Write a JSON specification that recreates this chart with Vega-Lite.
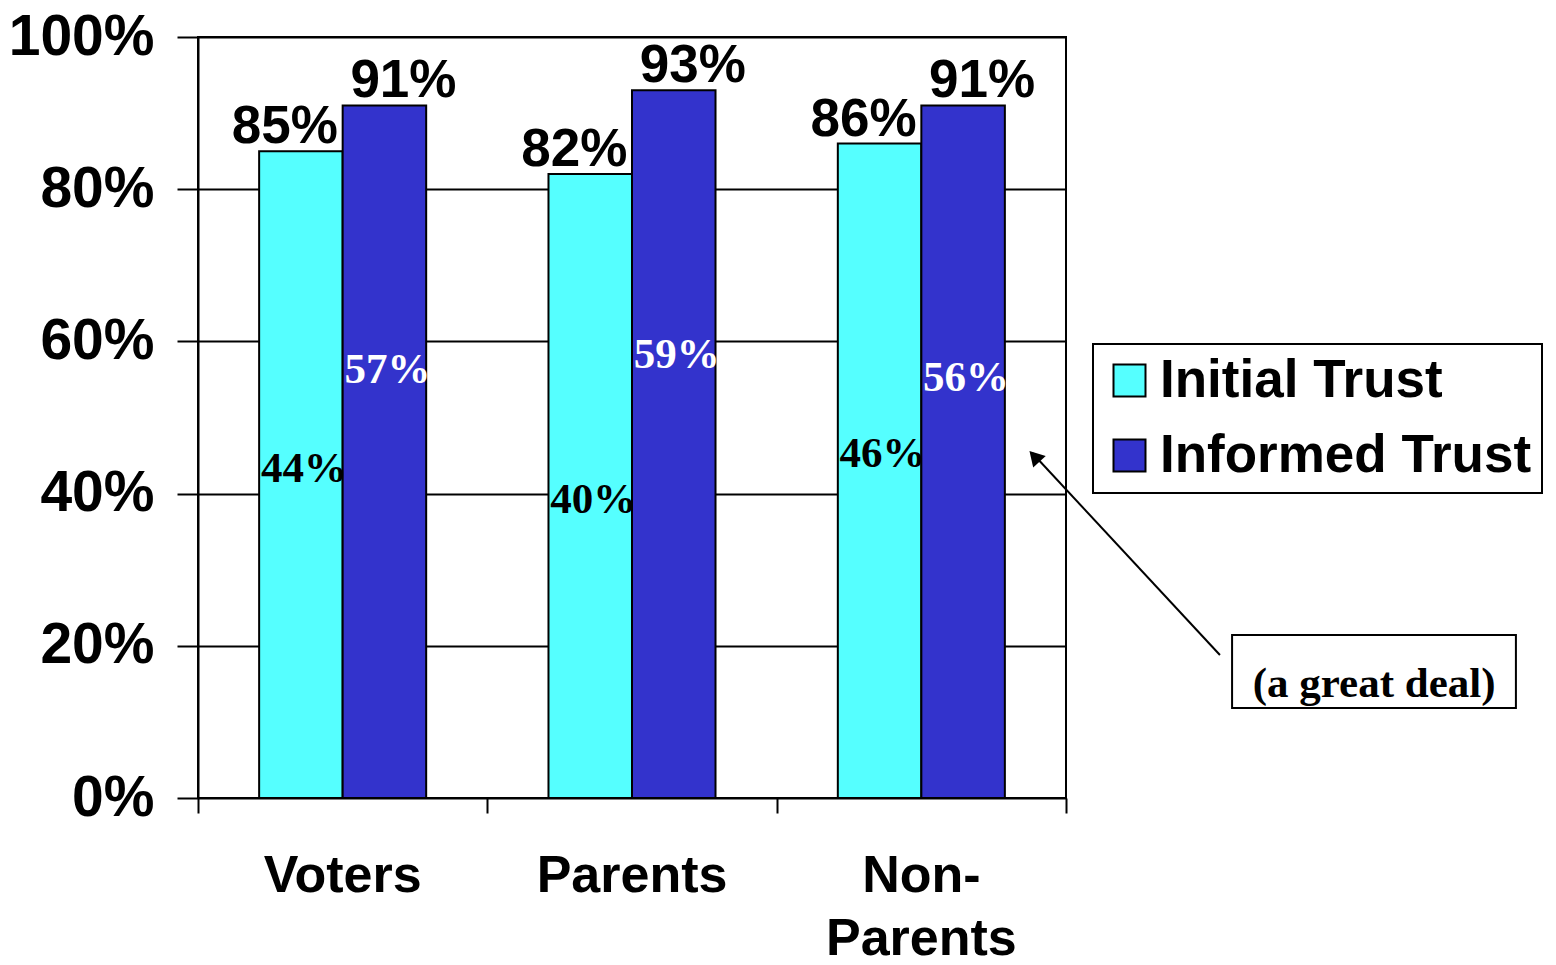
{
  "$schema": "https://vega.github.io/schema/vega-lite/v6.json",
  "width": 868,
  "height": 761,
  "autosize": {"type": "none"},
  "padding": {"left": 198, "top": 37, "right": 490, "bottom": 167},
  "background": "white",
  "config": {
    "view": {"stroke": "black", "strokeWidth": 2},
    "font": "Liberation Sans"
  },
  "data": {
    "values": [
      {"group": "Voters", "series": "Initial Trust", "total": 0.85, "greatDeal": 0.44},
      {"group": "Voters", "series": "Informed Trust", "total": 0.91, "greatDeal": 0.57},
      {"group": "Parents", "series": "Initial Trust", "total": 0.82, "greatDeal": 0.40},
      {"group": "Parents", "series": "Informed Trust", "total": 0.93, "greatDeal": 0.59},
      {"group": "Non-Parents", "series": "Initial Trust", "total": 0.86, "greatDeal": 0.46},
      {"group": "Non-Parents", "series": "Informed Trust", "total": 0.91, "greatDeal": 0.56}
    ]
  },
  "resolve": {"scale": {"x": "independent"}},
  "layer": [
    {
      "encoding": {
        "x": {
          "field": "group",
          "type": "nominal",
          "sort": ["Voters", "Parents", "Non-Parents"],
          "scale": {"paddingInner": 0.4227, "paddingOuter": 0.2113},
          "axis": {
            "orient": "bottom",
            "title": null,
            "ticks": false,
            "domain": false,
            "grid": false,
            "labelAngle": 0,
            "labelFont": "Liberation Sans",
            "labelFontSize": 52,
            "labelFontWeight": "bold",
            "labelColor": "black",
            "labelPadding": 93,
            "labelBaseline": "alphabetic",
            "labelLineHeight": 63,
            "labelLimit": 0,
            "labelExpr": "datum.label === 'Non-Parents' ? ['Non-', 'Parents'] : datum.label"
          }
        },
        "xOffset": {
          "field": "series",
          "type": "nominal",
          "sort": ["Initial Trust", "Informed Trust"],
          "scale": {"paddingInner": 0, "paddingOuter": 0}
        },
        "y": {
          "field": "total",
          "type": "quantitative",
          "scale": {"domain": [0, 1], "nice": false, "zero": true},
          "axis": {
            "title": null,
            "values": [0, 0.2, 0.4, 0.6, 0.8, 1],
            "format": ".0%",
            "grid": true,
            "gridColor": "black",
            "gridWidth": 2,
            "gridOpacity": 1,
            "domainColor": "black",
            "domainWidth": 2,
            "tickColor": "black",
            "tickWidth": 2,
            "tickSize": 21,
            "labelFont": "Liberation Sans",
            "labelFontSize": 57,
            "labelFontWeight": "bold",
            "labelColor": "black",
            "labelPadding": 23,
            "labelBaseline": "middle",
            "labelFlush": false,
            "labelOverlap": false
          }
        }
      },
      "layer": [
        {
          "mark": {"type": "bar", "stroke": "black", "strokeWidth": 2},
          "encoding": {
            "color": {
              "field": "series",
              "type": "nominal",
              "sort": ["Initial Trust", "Informed Trust"],
              "scale": {"domain": ["Initial Trust", "Informed Trust"], "range": ["#55FFFF", "#3333CC"]},
              "legend": {
                "title": null,
                "orient": "none",
                "legendX": 895,
                "legendY": 307,
                "direction": "vertical",
                "symbolType": "square",
                "symbolSize": 1024,
                "symbolStrokeColor": "black",
                "symbolStrokeWidth": 2,
                "symbolOpacity": 1,
                "labelFont": "Liberation Sans",
                "labelFontSize": 53,
                "labelFontWeight": "bold",
                "labelColor": "black",
                "labelOffset": 4,
                "labelLimit": 0,
                "rowPadding": 21,
                "padding": 10,
                "strokeColor": "black",
                "fillColor": "white",
                "encode": {"legend": {"update": {"strokeWidth": {"value": 2}}}}
              }
            }
          }
        },
        {
          "transform": [{"filter": "datum.series === 'Initial Trust'"}],
          "mark": {"type": "text", "dx": -16, "dy": -8, "baseline": "alphabetic", "align": "center", "font": "Liberation Sans", "fontSize": 53, "fontWeight": "bold", "color": "black"},
          "encoding": {"text": {"field": "total", "type": "quantitative", "format": ".0%"}}
        },
        {
          "transform": [{"filter": "datum.series === 'Informed Trust'"}],
          "mark": {"type": "text", "dx": 19, "dy": -8, "baseline": "alphabetic", "align": "center", "font": "Liberation Sans", "fontSize": 53, "fontWeight": "bold", "color": "black"},
          "encoding": {"text": {"field": "total", "type": "quantitative", "format": ".0%"}}
        },
        {
          "mark": {"type": "text", "dx": 3, "dy": 19, "baseline": "alphabetic", "align": "center", "font": "Liberation Serif", "fontSize": 43, "fontWeight": "bold"},
          "encoding": {
            "y": {"field": "greatDeal", "type": "quantitative"},
            "text": {"field": "greatDeal", "type": "quantitative", "format": ".0%"},
            "color": {"condition": {"test": "datum.series === 'Informed Trust'", "value": "white"}, "value": "black"}
          }
        }
      ]
    },
    {
      "data": {"values": [{}]},
      "layer": [
        {
          "mark": {"type": "rule", "stroke": "black", "strokeWidth": 2},
          "encoding": {
            "x": {
              "datum": 3.532,
              "type": "quantitative",
              "scale": {"domain": [0, 3], "nice": false, "zero": false},
              "axis": {
                "orient": "bottom",
                "title": null,
                "values": [0, 1, 2, 3],
                "labels": false,
                "domain": false,
                "grid": false,
                "tickSize": 15,
                "tickWidth": 2,
                "tickColor": "black"
              }
            },
            "x2": {"datum": 2.884},
            "y": {"datum": 0.1879, "type": "quantitative"},
            "y2": {"datum": 0.453}
          }
        },
        {
          "mark": {"type": "point", "shape": "triangle-up", "filled": true, "color": "black", "opacity": 1, "size": 290, "angle": 317.3},
          "encoding": {
            "x": {"datum": 2.891, "type": "quantitative"},
            "y": {"datum": 0.449, "type": "quantitative"}
          }
        },
        {
          "mark": {"type": "rect", "fill": "white", "stroke": "black", "strokeWidth": 2},
          "encoding": {
            "x": {"datum": 3.574, "type": "quantitative"},
            "x2": {"datum": 4.555},
            "y": {"datum": 0.2142, "type": "quantitative"},
            "y2": {"datum": 0.1183}
          }
        },
        {
          "mark": {"type": "text", "font": "Liberation Serif", "fontSize": 43, "fontWeight": "bold", "baseline": "alphabetic", "align": "center", "color": "black"},
          "encoding": {
            "x": {"datum": 4.065, "type": "quantitative"},
            "y": {"datum": 0.1327, "type": "quantitative"},
            "text": {"value": "(a great deal)"}
          }
        }
      ]
    }
  ]
}
